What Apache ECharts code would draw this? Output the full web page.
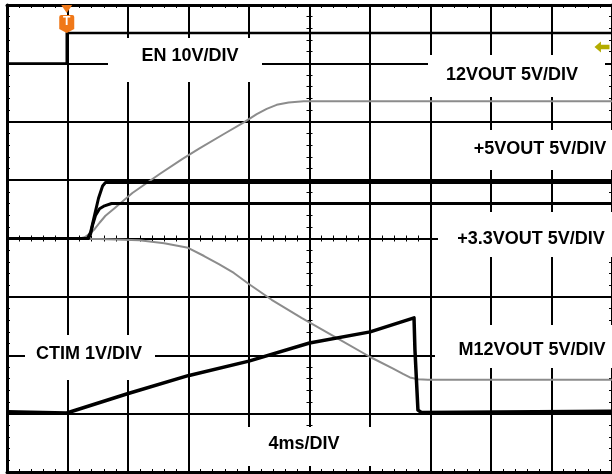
<!DOCTYPE html>
<html>
<head>
<meta charset="utf-8">
<title>Power-up sequencing</title>
<script src="https://cdn.jsdelivr.net/npm/echarts@6/dist/echarts.min.js"></script>
<style>
    html, body { margin: 0; padding: 0; background: #fff; }
    #main { width: 612px; height: 474px; }
</style>
</head>
<body>
<div id="main"></div>
<script>
// time in ms (0 = screen centre, 4ms/DIV), level in divisions (0 = centre line)
var enTime    = [-20, -16.05, -16.05, 20];
var enLevel   = [3.0, 3.0, 3.52, 3.52];

var v12Time   = [-20, -15.2, -14.87, -14.54, -14.21, -13.88, -13.49, -12.89, -11.71, -9.93, -8.42, -7.3, -5.66, -4.34, -3.49, -2.83, -2.17, -1.38, -0.39, 20];
var v12Level  = [0, 0, 0.02, 0.08, 0.16, 0.27, 0.39, 0.52, 0.78, 1.1, 1.36, 1.54, 1.79, 1.99, 2.13, 2.22, 2.29, 2.33, 2.35, 2.35];

var v5Time    = [-20, -14.67, -14.47, -14.21, -13.95, -13.68, -13.49, 20];
var v5Level   = [0, 0, 0.11, 0.4, 0.69, 0.9, 0.96, 0.96];

var v33Time   = [-20, -14.61, -14.47, -14.34, -14.14, -13.88, -13.55, -13.09, 20];
var v33Level  = [0, 0, 0.08, 0.23, 0.4, 0.51, 0.56, 0.6, 0.6];

var m12Time   = [-20, -13.9, -11.25, -9.61, -8.03, -6.97, -5.99, -5.0, -4.01, -2.5, -0.53, 1.91, 4.01, 5.53, 6.18, 6.64, 7.17, 7.83, 20];
var m12Level  = [0, -0.01, -0.03, -0.08, -0.16, -0.3, -0.44, -0.59, -0.78, -1.05, -1.36, -1.72, -2.03, -2.23, -2.32, -2.38, -2.41, -2.42, -2.42];

var ctimTime  = [-20, -16.05, -12.04, -8.03, -4.01, 0, 4.01, 6.91, 6.97, 7.17, 7.4, 20];
var ctimLevel = [-2.97, -2.99, -2.66, -2.35, -2.1, -1.79, -1.6, -1.36, -1.9, -2.94, -2.98, -2.96];

var labels = ['EN 10V/DIV', '12VOUT 5V/DIV', '+5VOUT 5V/DIV', '+3.3VOUT 5V/DIV', 'CTIM 1V/DIV', 'M12VOUT 5V/DIV', '4ms/DIV'];

// label boxes (layout only): [x, y, w, h] of the white box, text centre
var boxes = [
    [108, 38, 154, 44, 190, 56],
    [428, 55, 177, 42, 512, 75],
    [440, 130, 172, 40, 540, 149],
    [438, 212, 174, 45, 531, 239],
    [25, 335, 130, 45, 89, 354],
    [435, 325, 177, 43, 532, 350],
    [200, 427, 220, 39, 304, 444]
];

function pairs(t, v) {
    return t.map(function(x, i) { return [x, v[i]]; });
}

var black = '#000';
var gray = '#8c8c8c';

function xAx(pos, onZero, split, width) {
    return {
        type: 'value', min: -20, max: 20, interval: 4, position: pos,
        axisLine: { show: true, onZero: onZero, onZeroAxisIndex: 0, lineStyle: { color: black, width: width } },
        axisTick: { show: true, inside: true, length: 3, lineStyle: { color: black, width: 1 } },
        minorTick: { show: true, splitNumber: 5, length: 3, lineStyle: { color: black, width: 1 } },
        axisLabel: { show: false },
        splitLine: { show: split, lineStyle: { color: black, width: 2 } }
    };
}
function yAx(pos, onZero, split, width) {
    return {
        type: 'value', min: -4, max: 4, interval: 1, position: pos,
        axisLine: { show: true, onZero: onZero, onZeroAxisIndex: 0, lineStyle: { color: black, width: width } },
        axisTick: { show: true, inside: true, length: 3, lineStyle: { color: black, width: 1 } },
        minorTick: { show: true, splitNumber: 5, length: 3, lineStyle: { color: black, width: 1 } },
        axisLabel: { show: false },
        splitLine: { show: split, lineStyle: { color: black, width: 2 } }
    };
}

function trace(name, t, v, color, width, extra) {
    var s = {
        name: name, type: 'line', xAxisIndex: 0, yAxisIndex: 0,
        data: pairs(t, v), symbol: 'none', silent: true,
        lineStyle: { color: color, width: width, join: 'round' },
        z: 3
    };
    if (extra) s.markPoint = extra;
    return s;
}

var graphics = [];
boxes.forEach(function(b, i) {
    graphics.push({
        type: 'rect', z: 50,
        shape: { x: b[0], y: b[1], width: b[2], height: b[3] },
        style: { fill: '#fff' }
    });
    graphics.push({
        type: 'text', z: 51,
        style: {
            text: labels[i], x: b[4], y: b[5],
            align: 'center', verticalAlign: 'middle',
            font: 'bold 18px "Liberation Sans", Arial, sans-serif', fill: '#000'
        }
    });
});

var myChart = echarts.init(document.getElementById('main'));
myChart.setOption({
    animation: false,
    backgroundColor: '#fff',
    grid: { left: 7, top: 5, width: 608, height: 467, containLabel: false },
    xAxis: [
        xAx('bottom', true, true, 2),   // centre line, ticks up
        xAx('top', true, false, 2),     // centre line, ticks down
        xAx('top', false, false, 3),    // top border
        xAx('bottom', false, false, 3)  // bottom border
    ],
    yAxis: [
        yAx('left', true, true, 2),
        yAx('right', true, false, 2),
        yAx('left', false, false, 3),
        yAx('right', false, false, 3)
    ],
    series: [
        trace('12VOUT', v12Time, v12Level, gray, 2, {
            silent: true,
            data: [{
                coord: [20, 3.28], symbol: 'path://M0,5 L6,0 L6,3 L14,3 L14,7 L6,7 L6,10 Z',
                symbolSize: [15, 11], symbolOffset: [-10, 0],
                itemStyle: { color: '#b3ac00' }, label: { show: false }
            }]
        }),
        trace('M12VOUT', m12Time, m12Level, gray, 2),
        trace('+5VOUT', v5Time, v5Level, black, 3),
        trace('+3.3VOUT', v33Time, v33Level, black, 3),
        trace('CTIM', ctimTime, ctimLevel, black, 3.5),
        trace('EN', enTime, enLevel, black, 2.5, {
            silent: true,
            data: [{
                coord: [-16.05, 4], symbol: 'triangle', symbolRotate: 180,
                symbolSize: [11, 8], symbolOffset: [0, 4],
                itemStyle: { color: '#f07818' }, label: { show: false }
            }, {
                coord: [-16.05, 4],
                symbol: 'path://M2,0 L13,0 Q15,0 15,2 L15,14 L7.5,18 L0,14 L0,2 Q0,0 2,0 Z',
                symbolSize: [15, 18], symbolOffset: [0, 19],
                itemStyle: { color: '#f07818' },
                label: { show: true, formatter: 'T', color: '#fff', fontWeight: 'bold', fontSize: 12, offset: [0, -2] }
            }]
        })
    ],
    graphic: graphics
});
</script>
</body>
</html>
